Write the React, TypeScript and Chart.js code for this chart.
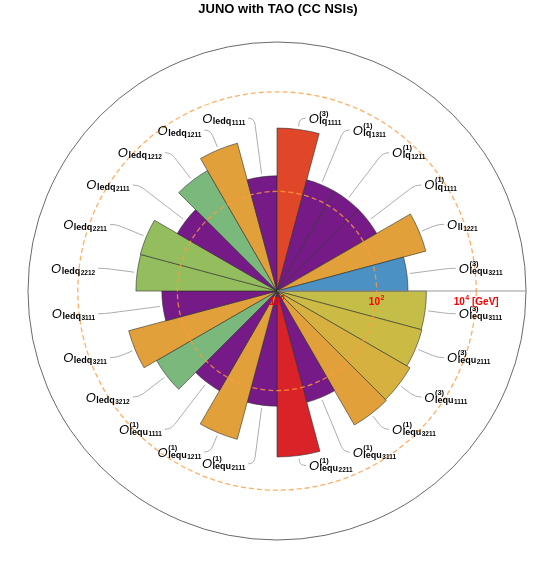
import React, { useEffect, useRef } from 'react';
import { Chart, registerables } from 'chart.js';

Chart.register(...registerables);

const TITLE = 'JUNO with TAO (CC NSIs)';

// Segments listed clockwise starting at 3 o'clock
const operators = ['lequ', 'lequ', 'lequ', 'lequ', 'lequ', 'lequ', 'lequ', 'lequ', 'lequ', 'ledq', 'ledq', 'ledq', 'ledq', 'ledq', 'ledq', 'ledq', 'ledq', 'ledq', 'lq', 'lq', 'lq', 'lq', 'll', 'lequ'];
const flavours = ['3111', '2111', '1111', '3211', '3111', '2211', '2111', '1211', '1111', '3212', '3211', '3111', '2212', '2211', '2111', '1212', '1211', '1111', '1111', '1311', '1211', '1111', '1221', '3211'];
const superscripts = ['(3)', '(3)', '(3)', '(1)', '(1)', '(1)', '(1)', '(1)', '(1)', '', '', '', '', '', '', '', '', '', '(3)', '(1)', '(1)', '(1)', '', '(3)'];
// Lower bounds on the new-physics scale in GeV
const scaleGeV = [1000, 1030, 1210, 1280, 205, 2150, 205, 1210, 205, 620, 1210, 205, 680, 695, 205, 620, 1180, 205, 1870, 205, 205, 205, 1240, 427];
const segmentColors = ['#C4BE48', '#CBBB44', '#D6B13F', '#E2A03B', '#761A87', '#DA2328', '#761A87', '#E2A03B', '#761A87', '#7BB87B', '#E2A03B', '#761A87', '#94BE5E', '#94BE5E', '#761A87', '#7BB87B', '#E2A03B', '#761A87', '#E04628', '#761A87', '#761A87', '#761A87', '#E2A03B', '#4C91C4'];

const tickExponents = [0, 2, 4];
const tickSuffixes = ['', '', ' [GeV]'];

const FONT = '"Liberation Sans", Arial, sans-serif';

function drawOperator(ctx: CanvasRenderingContext2D, x: number, yMid: number, op: string, fl: string, sup: string, alignLeft: boolean) {
  const fO = `italic 13px ${FONT}`;
  const fSub = `bold 9px ${FONT}`;
  const fDig = `bold 6.5px ${FONT}`;
  const fSup = `bold 7.5px ${FONT}`;
  ctx.font = fO;
  const wO = ctx.measureText('O').width;
  ctx.font = fSub;
  const wL = ctx.measureText(op).width;
  ctx.font = fDig;
  const wD = ctx.measureText(fl).width;
  ctx.font = fSup;
  const wS = sup ? ctx.measureText(sup).width : 0;
  const total = wO + 0.5 + Math.max(wL + 0.5 + wD, wS);
  const x0 = alignLeft ? x : x - total;
  const base = yMid + 4.6;
  ctx.fillStyle = '#000';
  ctx.textAlign = 'left';
  ctx.textBaseline = 'alphabetic';
  ctx.font = fO;
  ctx.fillText('O', x0, base);
  const xs = x0 + wO + 0.5;
  ctx.font = fSub;
  ctx.fillText(op, xs, base + 1);
  ctx.font = fDig;
  ctx.fillText(fl, xs + wL + 0.5, base + 2);
  if (sup) {
    ctx.font = fSup;
    ctx.fillText(sup, xs, base - 7);
  }
}

const overlayPlugin = {
  id: 'overlayLabels',
  afterDraw(chart: any) {
    const ctx: CanvasRenderingContext2D = chart.ctx;
    const scale = chart.scales.r;
    const cx = scale.xCenter;
    const cy = scale.yCenter;
    const R = scale.drawingArea;
    const meta = chart.getDatasetMeta(0);
    ctx.save();

    // Title
    ctx.fillStyle = '#000';
    ctx.font = `bold 13px ${FONT}`;
    ctx.textAlign = 'center';
    ctx.textBaseline = 'alphabetic';
    ctx.fillText(TITLE, chart.width / 2, 13);

    // Leader lines and operator labels
    meta.data.forEach((arc: any, i: number) => {
      const p = arc.getProps(['startAngle', 'endAngle', 'outerRadius'], true);
      const mid = (p.startAngle + p.endAngle) / 2;
      const c = Math.cos(mid);
      const s = Math.sin(mid);
      const dir = c >= 0 ? 1 : -1;
      const r0 = p.outerRadius + 3;
      const rB = Math.max(R * 0.675, r0 + 3);
      const rE = Math.max(R * 0.7, rB + 4);
      const ex = cx + rE * c;
      const ey = cy + rE * s;
      ctx.strokeStyle = '#adadad';
      ctx.lineWidth = 1;
      ctx.setLineDash([]);
      ctx.beginPath();
      ctx.moveTo(cx + r0 * c, cy + r0 * s);
      ctx.lineTo(cx + rB * c, cy + rB * s);
      ctx.quadraticCurveTo(ex, ey, ex + dir * 6, ey);
      ctx.stroke();
      drawOperator(ctx, ex + dir * 9, ey, operators[i], flavours[i], superscripts[i], dir > 0);
    });

    // Radial tick labels along the 3 o'clock axis
    tickExponents.forEach((e, k) => {
      const x = cx + scale.getDistanceFromCenterForValue(e);
      const fMain = `bold 10px ${FONT}`;
      const fSup = `bold 7px ${FONT}`;
      ctx.font = fMain;
      const w10 = ctx.measureText('10').width;
      const wSuf = ctx.measureText(tickSuffixes[k]).width;
      ctx.font = fSup;
      const wE = ctx.measureText(String(e)).width;
      const total = w10 + 0.5 + wE + wSuf;
      const x0 = x - total / 2;
      ctx.fillStyle = '#FF0000';
      ctx.textAlign = 'left';
      ctx.font = fMain;
      ctx.fillText('10', x0, cy + 14);
      ctx.font = fSup;
      ctx.fillText(String(e), x0 + w10 + 0.5, cy + 9);
      if (tickSuffixes[k]) {
        ctx.font = fMain;
        ctx.fillText(tickSuffixes[k], x0 + w10 + 0.5 + wE, cy + 14);
      }
    });
    ctx.restore();
  },
};

export default function App() {
  const ref = useRef<HTMLCanvasElement | null>(null);
  useEffect(() => {
    if (!ref.current) return;
    const labels = operators.map((op, i) => `O${superscripts[i]}_${op}${flavours[i]}`);
    const chart = new Chart(ref.current, {
      type: 'polarArea',
      data: {
        labels,
        datasets: [
          {
            data: scaleGeV.map((v) => Math.log10(v)),
            backgroundColor: segmentColors,
            borderColor: 'rgba(45,45,45,0.85)',
            borderWidth: 0.7,
          },
        ],
      },
      options: {
        responsive: false,
        animation: false,
        layout: { padding: { left: 28, right: 30, top: 42, bottom: 30 } },
        plugins: {
          legend: { display: false },
          title: { display: false },
          tooltip: { enabled: false },
        },
        scales: {
          r: {
            type: 'radialLinear',
            startAngle: 90,
            min: 0,
            max: 5,
            beginAtZero: true,
            ticks: { display: false, stepSize: 1 },
            pointLabels: { display: false },
            angleLines: {
              display: true,
              color: (c: any) => (c.index === 0 ? '#9a9a9a' : 'rgba(0,0,0,0)'),
              lineWidth: 1,
            },
            grid: {
              circular: true,
              z: 1,
              color: (c: any) => {
                const v = c.tick ? c.tick.value : -1;
                if (v === 2 || v === 4) return 'rgba(255,155,60,0.8)';
                if (v === 5) return '#444';
                return 'rgba(0,0,0,0)';
              },
              lineWidth: (c: any) => {
                const v = c.tick ? c.tick.value : -1;
                if (v === 2 || v === 4) return 1.3;
                if (v === 5) return 0.8;
                return 0;
              },
            },
            border: {
              dash: (c: any) => {
                const v = c.tick ? c.tick.value : -1;
                return v === 2 || v === 4 ? [5, 3] : [];
              },
            },
          } as any,
        },
      },
      plugins: [overlayPlugin],
    });
    return () => chart.destroy();
  }, []);
  return (
    <div style={{ position: 'absolute', left: 0, top: 0, width: 556, height: 570, background: '#fff' }}>
      <canvas ref={ref} width={556} height={570} style={{ display: 'block' }} />
    </div>
  );
}
